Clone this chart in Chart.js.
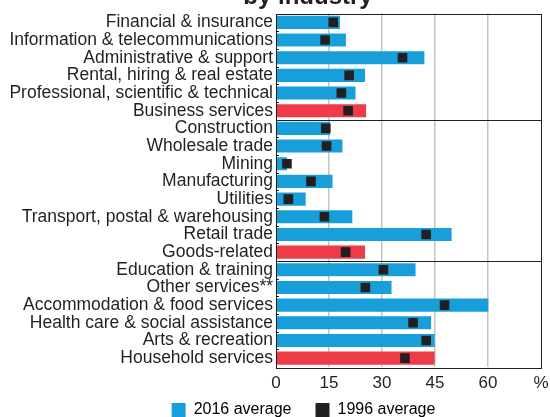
<!DOCTYPE html>
<html>
<head>
<meta charset="utf-8">
<script src="https://cdn.jsdelivr.net/npm/chart.js@4"></script>
<style>
  html, body { margin: 0; padding: 0; background: #fff; }
  #wrap { position: relative; width: 550px; height: 417px; }
</style>
</head>
<body>
<div id="wrap"><canvas id="industryChart"></canvas></div>
<script>
const categories = [
  "Financial & insurance",
  "Information & telecommunications",
  "Administrative & support",
  "Rental, hiring & real estate",
  "Professional, scientific & technical",
  "Business services",
  "Construction",
  "Wholesale trade",
  "Mining",
  "Manufacturing",
  "Utilities",
  "Transport, postal & warehousing",
  "Retail trade",
  "Goods-related",
  "Education & training",
  "Other services**",
  "Accommodation & food services",
  "Health care & social assistance",
  "Arts & recreation",
  "Household services",
];
const avg2016 = [18.1, 19.8, 42.0, 25.2, 22.5, 25.5, 15.3, 18.8, 3.1, 16.0, 8.4, 21.6, 49.7, 25.2, 39.5, 32.7, 60.1, 43.9, 44.9, 44.9];
const avg1996 = [16.2, 13.9, 35.8, 20.7, 18.5, 20.4, 14.1, 14.3, 3.1, 9.9, 3.5, 13.7, 42.5, 19.7, 30.4, 25.3, 47.7, 38.8, 42.5, 36.5];
const groupTotals = ["Business services", "Goods-related", "Household services"];
const xTicks = [0, 15, 30, 45, 60, 75];

const BLUE = "#189fda";
const RED = "#ef3a48";
const INK = "#231f20";
const FONT = "'Liberation Sans', Arial, sans-serif";

// frame, group separators, small axis ticks and the cut-off title
const framePlugin = {
  id: "frame",
  afterLayout(chart) {
    // legend sits right of centre and close under the axis in the original
    chart.legend.left += 33;
    chart.legend.right += 33;
    chart.legend.top -= 13;
    chart.legend.bottom -= 13;
  },
  afterDraw(chart) {
    const { ctx, chartArea: a } = chart;
    const y = chart.scales.y;
    ctx.save();
    ctx.strokeStyle = INK;
    ctx.lineWidth = 1;
    ctx.beginPath();
    categories.forEach((c, i) => {
      if (i === categories.length - 1) return;
      const yy = Math.round((y.getPixelForValue(i) + y.getPixelForValue(i + 1)) / 2) + 0.5;
      if (groupTotals.includes(c)) {
        ctx.moveTo(a.left, yy);
        ctx.lineTo(a.right, yy);
      } else {
        ctx.moveTo(a.left, yy);
        ctx.lineTo(a.left + 3, yy);
      }
    });
    ctx.stroke();
    ctx.strokeRect(Math.round(a.left) + 0.5, Math.round(a.top) + 0.5, Math.round(a.right - a.left), Math.round(a.bottom - a.top));

    ctx.fillStyle = INK;
    ctx.font = "bold 24px " + FONT;
    ctx.textAlign = "center";
    ctx.textBaseline = "alphabetic";
    ctx.fillText("by industry", 308, 4);
    ctx.restore();
  },
};

new Chart(document.getElementById("industryChart"), {
  type: "bar",
  data: {
    labels: categories,
    datasets: [
      {
        label: "2016 average",
        data: avg2016,
        backgroundColor: categories.map((c) => (groupTotals.includes(c) ? RED : BLUE)),
        barPercentage: 0.74,
        categoryPercentage: 1,
        order: 1,
      },
      {
        type: "line",
        label: "1996 average",
        data: avg1996,
        showLine: false,
        pointStyle: "rect",
        pointRadius: 6.8,
        pointHoverRadius: 6.8,
        pointBackgroundColor: INK,
        pointBorderWidth: 0,
        backgroundColor: INK,
        borderColor: INK,
        order: 0,
      },
    ],
  },
  options: {
    indexAxis: "y",
    responsive: true,
    maintainAspectRatio: false,
    animation: false,
    layout: { padding: { top: 9, right: 9, left: 0, bottom: -24 } },
    plugins: {
      legend: {
        position: "bottom",
        labels: {
          color: INK,
          font: { family: FONT, size: 16 },
          boxWidth: 14,
          boxHeight: 14,
          padding: 24,
          generateLabels: (chart) =>
            chart.data.datasets.map((ds, i) => ({
              text: ds.label,
              fillStyle: i === 0 ? BLUE : INK,
              strokeStyle: i === 0 ? BLUE : INK,
              lineWidth: 0,
              datasetIndex: i,
            })),
        },
      },
      tooltip: { enabled: false },
    },
    scales: {
      x: {
        min: 0,
        max: 75,
        afterBuildTicks: (scale) => {
          scale.ticks = xTicks.map((v) => ({ value: v }));
        },
        afterFit: (scale) => {
          scale.height = 24;
          scale.paddingRight = 0;
        },
        ticks: {
          color: INK,
          font: { family: FONT, size: 17 },
          padding: 6,
          callback: (v) => (v === 75 ? "%" : v),
        },
        grid: {
          drawTicks: false,
          lineWidth: 1.5,
          color: (c) => (c.tick && (c.tick.value === 0 || c.tick.value === 75) ? "rgba(0,0,0,0)" : "#c4c4c4"),
        },
        border: { display: false },
      },
      y: {
        afterFit: (scale) => {
          scale.width = 276;
        },
        ticks: {
          color: INK,
          font: { family: FONT, size: 17.5 },
          padding: 3,
          autoSkip: false,
        },
        grid: { display: false, drawTicks: false },
        border: { display: false },
      },
    },
  },
  plugins: [framePlugin],
});
</script>
</body>
</html>
